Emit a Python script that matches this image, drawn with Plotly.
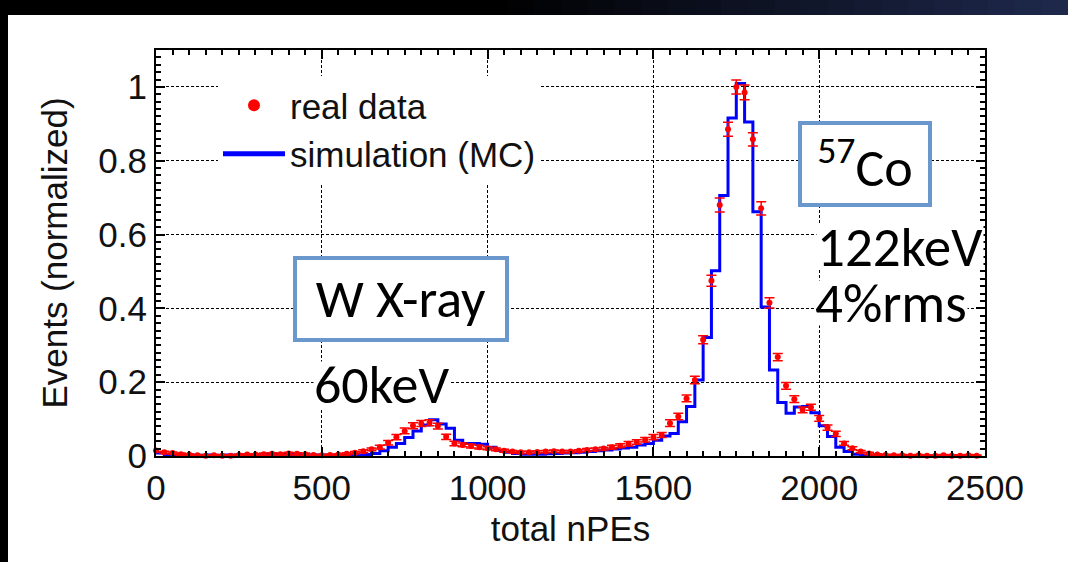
import plotly.graph_objects as go

# ---------------- data ----------------
bin_width = 25
npe_bins = list(range(0, 2500, bin_width))  # left edges 0 .. 2475

real_data = [
    0.015, 0.010, 0.008, 0.005, 0.004, 0.002, 0.001, 0.002, 0.001, 0.001,
    0.003, 0.004, 0.004, 0.005, 0.006, 0.005, 0.007, 0.006, 0.005, 0.003,
    0.002, 0.003, 0.004, 0.006, 0.009, 0.013, 0.018, 0.024, 0.036, 0.051,
    0.068, 0.082, 0.088, 0.090, 0.081, 0.052, 0.034, 0.030, 0.027, 0.024,
    0.021, 0.018, 0.014, 0.012, 0.010, 0.010, 0.011, 0.012, 0.013, 0.012,
    0.012, 0.014, 0.016, 0.018, 0.020, 0.024, 0.028, 0.033, 0.038, 0.044,
    0.051, 0.057, 0.089, 0.107, 0.156, 0.206, 0.315, 0.475, 0.680, 0.885,
    1.000, 0.985, 0.858, 0.671, 0.415, 0.268, 0.190, 0.154, 0.125, 0.132,
    0.102, 0.077, 0.060, 0.034, 0.021, 0.012, 0.007, 0.004, 0.003, 0.002,
    0.002, 0.001, 0.002, 0.001, 0.001, 0.002, 0.001, 0.001, 0.002, 0.001,
]

real_err = [
    0.004, 0.003, 0.003, 0.003, 0.002, 0.002, 0.002, 0.002, 0.002, 0.002,
    0.002, 0.002, 0.002, 0.003, 0.003, 0.003, 0.003, 0.003, 0.003, 0.002,
    0.002, 0.002, 0.002, 0.003, 0.003, 0.004, 0.004, 0.005, 0.006, 0.007,
    0.008, 0.008, 0.008, 0.008, 0.008, 0.007, 0.006, 0.005, 0.005, 0.005,
    0.004, 0.004, 0.004, 0.003, 0.003, 0.003, 0.003, 0.003, 0.003, 0.003,
    0.003, 0.003, 0.004, 0.004, 0.004, 0.005, 0.005, 0.006, 0.006, 0.006,
    0.007, 0.007, 0.009, 0.009, 0.009, 0.010, 0.011, 0.015, 0.019, 0.019,
    0.019, 0.020, 0.018, 0.018, 0.014, 0.010, 0.009, 0.009, 0.008, 0.008,
    0.008, 0.007, 0.007, 0.005, 0.004, 0.003, 0.003, 0.002, 0.002, 0.002,
    0.002, 0.002, 0.002, 0.002, 0.002, 0.002, 0.002, 0.002, 0.002, 0.002,
]

simulation_mc = [
    0.008, 0.004, 0.003, 0.002, 0.002, 0.002, 0.003, 0.002, 0.003, 0.003,
    0.004, 0.004, 0.004, 0.005, 0.004, 0.005, 0.004, 0.004, 0.003, 0.003,
    0.003, 0.002, 0.002, 0.002, 0.003, 0.004, 0.007, 0.014, 0.024, 0.034,
    0.050, 0.068, 0.084, 0.098, 0.087, 0.075, 0.043, 0.034, 0.034, 0.032,
    0.024, 0.015, 0.010, 0.007, 0.005, 0.005, 0.005, 0.006, 0.007, 0.008,
    0.009, 0.010, 0.012, 0.014, 0.016, 0.019, 0.022, 0.024, 0.030, 0.034,
    0.043, 0.054, 0.061, 0.093, 0.134, 0.206, 0.321, 0.502, 0.706, 0.916,
    1.009, 0.905, 0.662, 0.404, 0.233, 0.145, 0.116, 0.133, 0.134, 0.117,
    0.082, 0.053, 0.024, 0.012, 0.005, 0.003, 0.001, 0.001, 0.001, 0.000,
    0.000, 0.000, 0.000, 0.000, 0.000, 0.000, 0.000, 0.000, 0.000, 0.000,
]

x_ticks = [0, 500, 1000, 1500, 2000, 2500]
y_ticks = [0, 0.2, 0.4, 0.6, 0.8, 1]

# ---------------- layout geometry (pixels) ----------------
W, H = 1068, 562
ML, MR, MT, MB = 156, 83, 50, 106
PW, PH = W - ML - MR, H - MT - MB


def px(xpix):
    return (xpix - ML) / PW


def py(ypix):
    return (H - MB - ypix) / PH


FONT = "Liberation Sans, Arial, sans-serif"
BOXFONT = "Carlito, Lato, sans-serif"
BOXCOL = "#6A98CC"
BOXSIZE = 54

fig = go.Figure()

fig.add_trace(go.Scatter(
    x=npe_bins, y=simulation_mc, mode="lines", line_shape="hv",
    line=dict(color="#0000FF", width=3),
    name="simulation (MC)", legendgroup="b", legendrank=2,
))

fig.add_trace(go.Scatter(
    x=npe_bins, y=real_data, mode="markers",
    marker=dict(color="#FF0000", size=6),
    error_y=dict(type="data", array=real_err, color="#FF0000",
                 thickness=1.5, width=5),
    name="real data", legendgroup="a", legendrank=1, cliponaxis=False,
))

axis_common = dict(
    showline=True, linewidth=2, linecolor="black", mirror="allticks",
    ticks="inside", ticklen=9, tickwidth=2, tickcolor="black",
    showgrid=True, gridcolor="black", gridwidth=1, griddash="3px,2px",
    zeroline=False,
    tickfont=dict(family=FONT, size=35, color="#111111"),
)

fig.update_xaxes(
    range=[0, 2500], tickvals=x_ticks,
    minor=dict(dtick=50, tick0=0, ticks="inside", ticklen=5, tickwidth=2,
               tickcolor="black", showgrid=False),
    title=dict(text="total nPEs", font=dict(family=FONT, size=35, color="#111111"),
               standoff=10),
    **axis_common,
)
fig.update_yaxes(
    range=[0, 1.1], tickvals=y_ticks,
    minor=dict(dtick=0.02, tick0=0, ticks="inside", ticklen=5, tickwidth=2,
               tickcolor="black", showgrid=False),
    title=dict(text="Events (normalized)",
               font=dict(family=FONT, size=35, color="#111111"), standoff=20),
    **axis_common,
)

shapes = []
# dark slide background: top band (gradient black -> navy) and left strip
n = 40
for i in range(n):
    x0 = i * W / n
    x1 = (i + 1) * W / n
    t = max(0.0, (i / (n - 1) - 0.45) / 0.55)
    r = int(0 + 30 * t)
    g = int(0 + 40 * t)
    b = int(0 + 75 * t)
    shapes.append(dict(type="rect", xref="paper", yref="paper",
                       x0=px(x0), x1=px(x1 + 1), y0=py(15), y1=py(0),
                       fillcolor=f"rgb({r},{g},{b})", line_width=0, layer="above"))
shapes.append(dict(type="rect", xref="paper", yref="paper",
                   x0=px(0), x1=px(8), y0=py(H), y1=py(0),
                   fillcolor="black", line_width=0, layer="above"))

annotations = [
    dict(text="W X-ray", xref="paper", yref="paper", x=px(401), y=py(299),
         xanchor="center", yanchor="middle", showarrow=False,
         font=dict(family=BOXFONT, size=BOXSIZE, color="black"),
         bordercolor=BOXCOL, borderwidth=4, borderpad=0, bgcolor="white",
         width=208, height=78),
    dict(text="<sup>57</sup>Co", xref="paper", yref="paper", x=px(864.5), y=py(163.7),
         xanchor="center", yanchor="middle", showarrow=False,
         font=dict(family=BOXFONT, size=BOXSIZE, color="black"),
         bordercolor=BOXCOL, borderwidth=4, borderpad=0, bgcolor="white",
         width=126, height=78),
    dict(text="60keV", xref="paper", yref="paper", x=px(381), y=py(385),
         xanchor="center", yanchor="middle", showarrow=False,
         font=dict(family=BOXFONT, size=BOXSIZE, color="black"), bgcolor="white",
         borderpad=0, height=46),
    dict(text="122keV", xref="paper", yref="paper", x=px(816), y=py(247),
         xanchor="left", yanchor="middle", showarrow=False,
         font=dict(family=BOXFONT, size=BOXSIZE + 1, color="black"), bgcolor="white",
         borderpad=0, height=44),
    dict(text="4%rms", xref="paper", yref="paper", x=px(814), y=py(303),
         xanchor="left", yanchor="middle", showarrow=False,
         font=dict(family=BOXFONT, size=BOXSIZE + 1, color="black"), bgcolor="white",
         borderpad=0, height=44),
]

fig.update_layout(
    width=W, height=H, autosize=False,
    margin=dict(l=ML, r=MR, t=MT, b=MB, pad=0),
    paper_bgcolor="white", plot_bgcolor="white",
    shapes=shapes, annotations=annotations,
    showlegend=True,
    legend=dict(x=px(218), y=py(76), xanchor="left", yanchor="top",
                bgcolor="white", borderwidth=0,
                font=dict(family=FONT, size=35, color="#111111"),
                itemwidth=62, itemsizing="constant",
                traceorder="grouped", tracegroupgap=0),
)

fig.write_html("out.html")
